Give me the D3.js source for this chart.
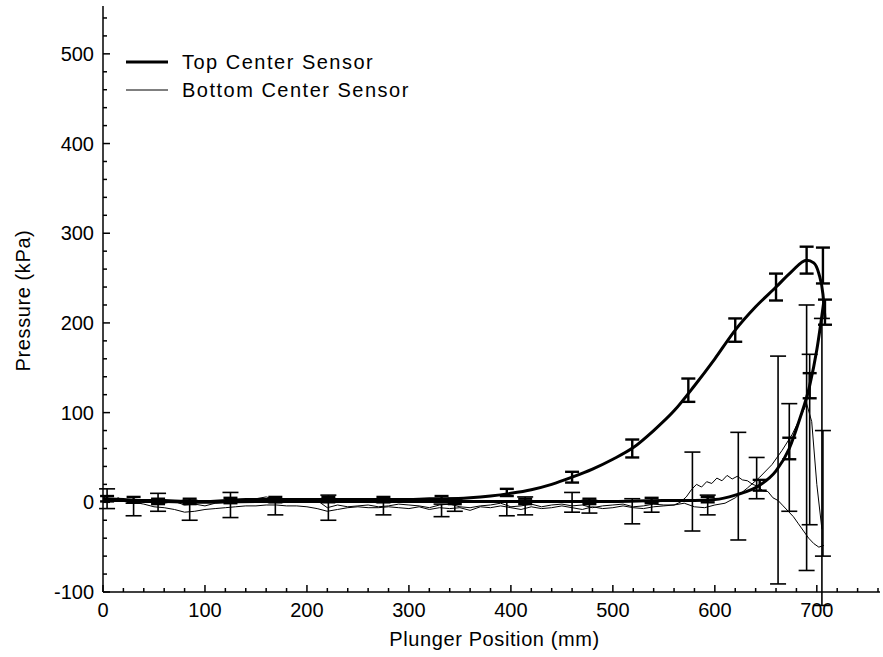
<!DOCTYPE html>
<html>
<head>
<meta charset="utf-8">
<script src="https://cdn.jsdelivr.net/npm/d3@7"></script>
<style>
  html, body { margin: 0; padding: 0; background: #fff; }
  svg { display: block; }
  text { font-family: "Liberation Sans", Arial, sans-serif; fill: #000; }
</style>
</head>
<body>
<svg id="chart" width="883" height="657"></svg>
<script>
// ---------- data ----------
const seriesNames = ["Top Center Sensor", "Bottom Center Sensor"];
const xTicks = [0, 100, 200, 300, 400, 500, 600, 700];
const yTicks = [-100, 0, 100, 200, 300, 400, 500];

// top centre sensor, run 1
const topAX = [0, 20, 40, 60, 80, 100, 120, 140, 160, 180, 200, 220, 240, 260, 280, 300, 320, 340, 360, 380, 400, 420, 440, 460, 480, 500, 520, 540, 560, 580, 600, 620, 640, 660, 675, 690, 697, 702, 706, 708];
const topAY = [4, 3, 2, 2, 1, 1, 2, 3, 3, 3, 3, 3, 3, 3, 3, 3, 4, 4, 5, 7, 10, 14, 20, 28, 37, 48, 61, 80, 102, 130, 160, 192, 218, 240, 257, 270, 267, 255, 232, 205];
const topABarX = [4, 30, 85, 125, 169, 221, 275, 332, 396, 460, 519, 574, 620, 660, 690, 706];
const topABarY = [4, 3, 1, 2, 3, 3, 3, 4, 11, 28, 60, 125, 192, 240, 270, 264];
const topABarE = [3, 3, 3, 3, 3, 3, 3, 3, 4, 6, 10, 13, 13, 15, 15, 20];

// top centre sensor, run 2
const topBX = [0, 20, 40, 60, 80, 100, 150, 200, 250, 300, 350, 400, 450, 500, 550, 580, 600, 620, 644, 660, 673, 683, 693, 700, 707];
const topBY = [2, 2, 1, 1, 0, 0, 1, 1, 1, 1, 1, 1, 1, 1, 2, 2, 3, 8, 19, 35, 60, 92, 130, 170, 225];
const topBBarX = [54, 345, 414, 477, 538, 593, 644, 673, 693, 708];
const topBBarY = [1, 1, 1, 1, 2, 3, 19, 60, 130, 212];
const topBBarE = [3, 3, 3, 3, 3, 3, 6, 12, 14, 14];

// bottom centre sensor, run 1
const botCX = [0, 8, 15, 22, 30, 40, 50, 60, 70, 80, 90, 100, 110, 120, 130, 140, 150, 160, 170, 180, 190, 200, 210, 220, 230, 240, 250, 260, 270, 280, 290, 300, 310, 320, 330, 340, 350, 360, 370, 380, 390, 400, 410, 420, 430, 440, 450, 460, 470, 480, 490, 500, 510, 520, 530, 540, 550, 560, 566, 572, 577, 582, 587, 592, 597, 602, 607, 612, 617, 622, 627, 632, 637, 642, 647, 652, 657, 662, 667, 672, 677, 682, 687, 692, 697, 702, 707];
const botCY = [6, 2, 5, 1, 3, 0, 2, -1, 1, -3, -2, -4, -1, 0, 2, 3, 4, 6, 3, 2, 1, 4, 2, -6, -3, -5, -4, -3, -5, -4, -2, -3, -4, -6, -3, -2, -5, -6, -4, -3, -1, -5, -4, -2, -5, -3, -2, -4, -3, -6, -4, -3, -2, -5, -4, -2, -3, -3, 0, 6, 14, 20, 17, 23, 21, 27, 24, 30, 26, 29, 25, 24, 20, 18, 13, 12, 5, 2, -4, -10, -16, -24, -32, -40, -46, -50, -48];
const botCBarX = [4, 30, 85, 125, 169, 221, 275, 332, 396, 460, 519, 578, 623, 662, 690, 705];
const botCBarY = [4, -8, -9, -3, -7, -6, -7, -9, -7, 0, -10, 12, 18, 36, 72, 45];
const botCBarE = [11, 7, 11, 14, 7, 14, 7, 7, 8, 11, 14, 44, 60, 127, 148, 160];

// bottom centre sensor, run 2
const botDX = [0, 10, 20, 30, 40, 50, 60, 70, 80, 90, 100, 110, 120, 130, 140, 150, 160, 170, 180, 190, 200, 210, 220, 230, 240, 250, 260, 270, 280, 290, 300, 310, 320, 330, 340, 350, 360, 370, 380, 390, 400, 410, 420, 430, 440, 450, 460, 470, 480, 490, 500, 510, 520, 530, 540, 550, 560, 570, 580, 590, 600, 610, 620, 632, 644, 656, 666, 676, 684, 690, 695, 700, 705];
const botDY = [3, 2, 3, 0, -2, -5, -6, -8, -11, -10, -8, -7, -6, -5, -4, -4, -3, -3, -4, -4, -5, -7, -10, -8, -6, -5, -6, -6, -5, -6, -7, -5, -8, -6, -7, -6, -9, -5, -6, -4, -6, -8, -5, -7, -6, -4, -6, -8, -5, -7, -6, -4, -6, -7, -5, -4, -3, -1, -5, -6, -3, -1, 5, 16, 28, 42, 58, 76, 95, 110, 90, 20, -30];
const botDBarX = [54, 345, 414, 477, 538, 593, 641, 673, 693, 706];
const botDBarY = [0, -3, -4, -5, -5, -3, 27, 50, 70, 10];
const botDBarE = [10, 7, 10, 7, 6, 11, 23, 60, 95, 70];

// ---------- layout ----------
const svg = d3.select("#chart");
const x = d3.scaleLinear().domain([0, 760]).range([103, 878]);
const y = d3.scaleLinear().domain([-100, 550]).range([592, 9]);

function zip(xs, ys) { return xs.map((v, i) => [v, ys[i]]); }
function bars(xs, ys, es) { return xs.map((v, i) => ({ x: v, y: ys[i], e: es[i] })); }

const thick = d3.line().x(d => x(d[0])).y(d => y(d[1])).curve(d3.curveMonotoneX);
const thin = d3.line().x(d => x(d[0])).y(d => y(d[1]));

const plot = svg.append("g");

function drawBars(data, sw, cap) {
  const g = plot.append("g").attr("stroke", "#000").attr("stroke-width", sw).attr("fill", "none");
  data.forEach(d => {
    const xs = x(d.x), y1 = y(d.y - d.e), y2 = y(d.y + d.e);
    g.append("line").attr("x1", xs).attr("x2", xs).attr("y1", y1).attr("y2", y2);
    g.append("line").attr("x1", xs - cap / 2).attr("x2", xs + cap / 2).attr("y1", y1).attr("y2", y1);
    g.append("line").attr("x1", xs - cap / 2).attr("x2", xs + cap / 2).attr("y1", y2).attr("y2", y2);
  });
}

// thin series
plot.append("path").datum(zip(botCX, botCY)).attr("d", thin).attr("fill", "none").attr("stroke", "#000").attr("stroke-width", 1);
plot.append("path").datum(zip(botDX, botDY)).attr("d", thin).attr("fill", "none").attr("stroke", "#000").attr("stroke-width", 1);
drawBars(bars(botCBarX, botCBarY, botCBarE), 1.6, 16);
drawBars(bars(botDBarX, botDBarY, botDBarE), 1.6, 16);

// thick series
plot.append("path").datum(zip(topAX, topAY)).attr("d", thick).attr("fill", "none").attr("stroke", "#000").attr("stroke-width", 3);
plot.append("path").datum(zip(topBX, topBY)).attr("d", thick).attr("fill", "none").attr("stroke", "#000").attr("stroke-width", 3);
drawBars(bars(topABarX, topABarY, topABarE), 2.4, 14);
drawBars(bars(topBBarX, topBBarY, topBBarE), 2.4, 14);

// ---------- axes ----------
const xMinor = d3.range(0, 761, 20);
const yMinor = d3.range(-100, 551, 20);
const ax = svg.append("g").attr("stroke", "#000").attr("stroke-width", 1.5);
ax.append("line").attr("x1", 103).attr("x2", 880).attr("y1", y(-100)).attr("y2", y(-100));
ax.append("line").attr("x1", x(0)).attr("x2", x(0)).attr("y1", 592).attr("y2", 6);
xMinor.forEach(v => {
  const major = v % 100 === 0;
  ax.append("line").attr("x1", x(v)).attr("x2", x(v)).attr("y1", y(-100)).attr("y2", y(-100) - (major ? 7 : 4));
});
yMinor.forEach(v => {
  const major = v % 100 === 0;
  ax.append("line").attr("x1", x(0)).attr("x2", x(0) + (major ? 7 : 4)).attr("y1", y(v)).attr("y2", y(v));
});

svg.append("g").selectAll("text").data(xTicks).join("text")
  .attr("x", d => x(d)).attr("y", 617).attr("text-anchor", "middle")
  .attr("font-size", 20).text(d => d);
svg.append("g").selectAll("text").data(yTicks).join("text")
  .attr("x", 94).attr("y", d => y(d) + 7).attr("text-anchor", "end")
  .attr("font-size", 20).text(d => d);

svg.append("text").attr("x", x(384)).attr("y", 646).attr("text-anchor", "middle")
  .attr("font-size", 20).attr("letter-spacing", 0.6).text("Plunger Position (mm)");
svg.append("text").attr("transform", "translate(30," + y(225) + ") rotate(-90)")
  .attr("text-anchor", "middle").attr("font-size", 20).attr("letter-spacing", 0.6).text("Pressure (kPa)");

// ---------- legend ----------
const lg = svg.append("g");
seriesNames.forEach((name, i) => {
  const ly = 62 + i * 28;
  lg.append("line").attr("x1", 126).attr("x2", 168).attr("y1", ly).attr("y2", ly)
    .attr("stroke", "#000").attr("stroke-width", i === 0 ? 3 : 1);
  lg.append("text").attr("x", 182).attr("y", ly + 7).attr("font-size", 20)
    .attr("letter-spacing", 1.5).text(name);
});
</script>
</body>
</html>
